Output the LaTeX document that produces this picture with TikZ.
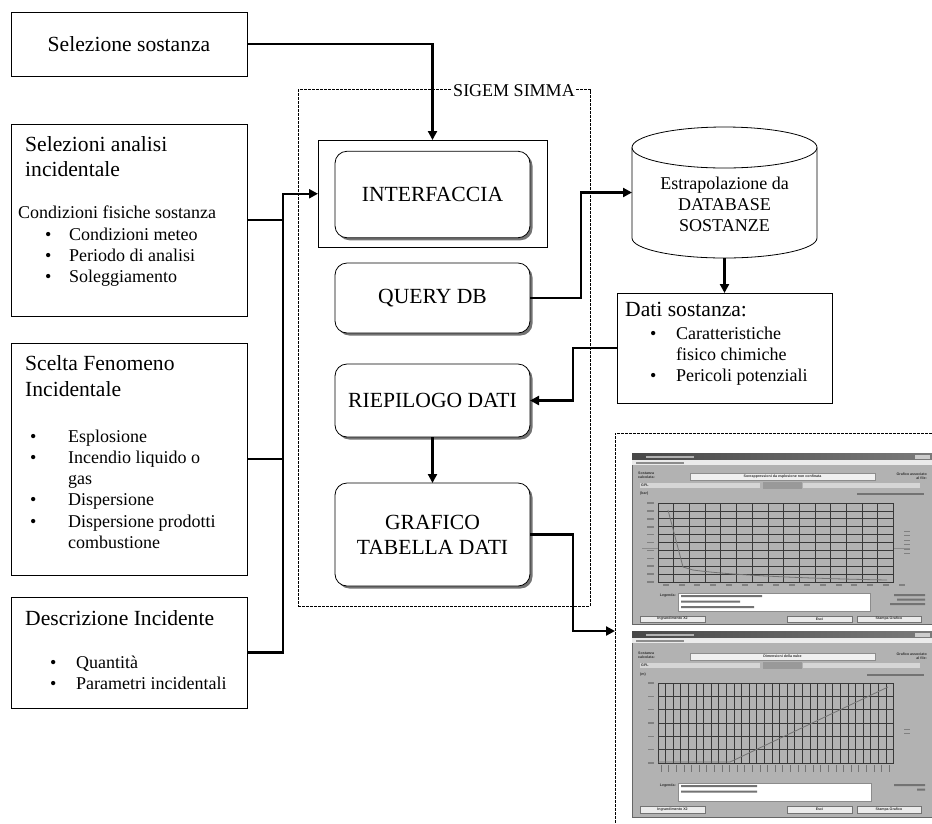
\documentclass[tikz,border=0pt]{standalone}
\usepackage{fontspec}
\setmainfont{Liberation Serif}
\newfontfamily\winfont{Liberation Sans}
\usetikzlibrary{arrows.meta,shadows,calc}
\newcommand\bigtxt{\fontsize{21.6}{25}\selectfont}
\newcommand\bodytxt{\fontsize{18}{21.3}\selectfont}
\newcommand\wintxt{\winfont\bfseries\fontsize{3.6}{4.2}\selectfont}
\begin{document}
\begin{tikzpicture}[x=1pt,y=-1pt,
  box/.style={draw, line width=0.8pt, inner sep=0pt, outer sep=0pt},
  rbox/.style={box, rounded corners=12pt, fill=white, minimum width=195pt, align=center, font=\bigtxt,
     drop shadow={shadow xshift=2.5pt, shadow yshift=-2.5pt, fill=black!55, opacity=1}},
  lt/.style={inner sep=0pt, anchor=base west},
  ct/.style={inner sep=0pt, anchor=base},
  conn/.style={line width=2.2pt},
  arr/.style={conn, -{Triangle[length=9pt,width=9pt]}},
  sigdashed/.style={line width=0.9pt, dash pattern=on 3pt off 1pt},
  wl/.style={inner sep=0pt, font=\wintxt, text=black!80},
  wfield/.style={fill=black!6, draw=black!45, line width=0.3pt},
  wbtn/.style={fill=black!8, draw=black!55, line width=0.3pt},
  grid1/.style={black!78, line width=0.7pt},
  blur/.style={fill=black!55}
]
\useasboundingbox (0,0) rectangle (932,823);

% ---------- left input boxes ----------
\node[box, minimum width=236pt, minimum height=64pt, font=\bigtxt] (ss) at (129,44) {Selezione sostanza};

\node[box, minimum width=236pt, minimum height=192pt] (sel) at (129,220) {};
\node[lt, font=\bigtxt] (selt1) at (25,151.7) {Selezioni analisi};
\node[lt, font=\bigtxt] (selt2) at (25,176.7) {incidentale};
\node[lt, font=\bodytxt] (selt3) at (18,218) {Condizioni fisiche sostanza};
\node[lt, font=\bodytxt] (selb1) at (45,240) {•};
\node[lt, font=\bodytxt] (selt4) at (69,240) {Condizioni meteo};
\node[lt, font=\bodytxt] (selb2) at (45,261.3) {•};
\node[lt, font=\bodytxt] (selt5) at (69,261.3) {Periodo di analisi};
\node[lt, font=\bodytxt] (selb3) at (45,282.6) {•};
\node[lt, font=\bodytxt] (selt6) at (69,282.6) {Soleggiamento};

\node[box, minimum width=236pt, minimum height=232pt] (scelta) at (129,459) {};
\node[lt, font=\bigtxt] (sct1) at (25,370.7) {Scelta Fenomeno};
\node[lt, font=\bigtxt] (sct2) at (25,396) {Incidentale};
\node[lt, font=\bodytxt] (scb1) at (30,442) {•};
\node[lt, font=\bodytxt] (sct3) at (68,442) {Esplosione};
\node[lt, font=\bodytxt] (scb2) at (30,463.3) {•};
\node[lt, font=\bodytxt] (sct4) at (68,463.3) {Incendio liquido o};
\node[lt, font=\bodytxt] (sct5) at (68,484.6) {gas};
\node[lt, font=\bodytxt] (scb3) at (30,505.9) {•};
\node[lt, font=\bodytxt] (sct6) at (68,505.9) {Dispersione};
\node[lt, font=\bodytxt] (scb4) at (30,527.2) {•};
\node[lt, font=\bodytxt] (sct7) at (68,527.2) {Dispersione prodotti};
\node[lt, font=\bodytxt] (sct8) at (68,548.5) {combustione};

\node[box, minimum width=236pt, minimum height=111pt] (desc) at (129,652.5) {};
\node[lt, font=\bigtxt] (dst1) at (25,625) {Descrizione Incidente};
\node[lt, font=\bodytxt] (dsb1) at (50,668.3) {•};
\node[lt, font=\bodytxt] (dst2) at (76,668.3) {Quantità};
\node[lt, font=\bodytxt] (dsb2) at (50,689.3) {•};
\node[lt, font=\bodytxt] (dst3) at (76,689.3) {Parametri incidentali};

% ---------- SIGEM SIMMA ----------
\node[draw, sigdashed, inner sep=0pt, outer sep=0pt, minimum width=292pt, minimum height=516.5pt] (sigem) at (444,347.75) {};
\node[fill=white, inner xsep=1.5pt, inner ysep=0pt, font=\bodytxt] (siglab) at (514,91) {SIGEM SIMMA};

\node[box, minimum width=229pt, minimum height=107.5pt] (intout) at (432.5,193.75) {};
\node[rbox, minimum height=86.5pt] (int) at (432.5,194.5) {INTERFACCIA};
\node[rbox, minimum height=70pt] (query) at (432.5,298) {QUERY DB};
\node[rbox, minimum height=73pt] (riep) at (432.5,400.5) {RIEPILOGO DATI};
\node[rbox, minimum height=103pt] (graf) at (432.5,534.5) {GRAFICO\\TABELLA DATI};

% ---------- database cylinder ----------
\node[inner sep=0pt, outer sep=0pt, minimum width=185pt, minimum height=131pt] (cyl) at (724.5,192.5) {};
\draw[line width=0.8pt, fill=white] (632,147.5) -- (632,238) arc[start angle=180, end angle=360, x radius=92.5pt, y radius=20pt] -- (817,147.5);
\draw[line width=0.8pt] (724.5,147.5) ellipse [x radius=92.5pt, y radius=20.5pt];
\node[ct, font=\bodytxt] (cylt1) at (724.5,189.3) {Estrapolazione da};
\node[ct, font=\bodytxt] (cylt2) at (724.5,210.5) {DATABASE};
\node[ct, font=\bodytxt] (cylt3) at (724.5,231.7) {SOSTANZE};

\node[box, minimum width=215pt, minimum height=110pt] (dati) at (724.5,348) {};
\node[lt, font=\bigtxt] (dat1) at (625,316.7) {Dati sostanza:};
\node[lt, font=\bodytxt] (dab1) at (650,339.3) {•};
\node[lt, font=\bodytxt] (dat2) at (676,339.3) {Caratteristiche};
\node[lt, font=\bodytxt] (dat3) at (676,360.6) {fisico chimiche};
\node[lt, font=\bodytxt] (dab2) at (650,381.9) {•};
\node[lt, font=\bodytxt] (dat4) at (676,381.9) {Pericoli potenziali};

% ---------- screenshots frame ----------
\coordinate (shotin) at (615,631);
\draw[sigdashed] (932,433) -- (615,433) -- (615,823);

% window 1
\begin{scope}[shift={(632,453)}]
  \fill[black!30, draw=black!60, line width=0.4pt] (0,0) rectangle (300,171);
  \shade[left color=black!72, right color=black!52] (0,0) rectangle (300,7);
  \fill[black!30] (14,2.5) rectangle (62,4.5);
  \fill[black!20] (283,1.5) rectangle (298,5.5);
  \fill[black!8] (0,7) rectangle (300,12);
  \fill[black!45] (4,8.5) rectangle (52,10.5);
  \node[wl, anchor=west, align=left] (w1a) at (6,22) {Sostanza\\calcolata:};
  \draw[wfield] (58,20) rectangle (243,27);
  \node[wl] (w1t) at (150.5,23.5) {Sovrappressioni da esplosione non confinata};
  \node[wl, anchor=east, align=right] (w1b) at (295,23) {Grafico associato\\al file:};
  \fill[black!16] (8,30) rectangle (128,35);
  \fill[black!40] (131,29) rectangle (170,36);
  \fill[black!16] (171,30) rectangle (288,35);
  \node[wl, anchor=west] (w1c) at (9,32.5) {GPL};
  \node[wl, anchor=west] (w1d) at (8,41) {(bar)};
  \fill[blur] (225,40) rectangle (292,42);
  \foreach \i in {0,...,15} \draw[grid1] ({26+\i*15.7},50) -- ({26+\i*15.7},129);
  \foreach \j in {0,...,10} {
    \draw[grid1] (26,{50+\j*7.9}) -- (261.5,{50+\j*7.9});
    \fill[black!50] (15,{49.2+\j*7.9}) rectangle (22,{50.8+\j*7.9});}
  \foreach \i in {0,...,15} \fill[black!50] ({31+\i*15.7},131) rectangle ({37+\i*15.7},133);
  \draw[black!45, line width=0.4pt] (10,95) -- (26,95) (262,95) -- (278,95);
  \draw[black!55, line width=0.8pt] (36,57) -- (51,114) -- (61,117) .. controls (90,121) and (150,125) .. (255,127);
  \foreach \j in {0,...,5} \draw[black!50, line width=0.4pt] (272,{78+\j*4.5}) -- (278,{78+\j*4.5});
  \node[wl, anchor=east] (w1e) at (44,143) {Legenda:};
  \draw[wfield, fill=white] (46,140) rectangle (238,158);
  \fill[blur] (49,142) rectangle (130,144) (49,147.5) rectangle (108,149.5) (49,153) rectangle (122,155);
  \fill[blur] (262,141) rectangle (293,143) (265,145.5) rectangle (293,147.5) (258,150) rectangle (293,152);
  \draw[wbtn] (8,163) rectangle (73,169);
  \node[wl] (w1f) at (40.5,166) {Ingrandimento X2};
  \draw[wbtn] (155,163) rectangle (220,169);
  \node[wl] (w1g) at (187.5,166) {Esci};
  \draw[wbtn] (225,163) rectangle (289,169);
  \node[wl] (w1h) at (257,166) {Stampa Grafico};
\end{scope}

% window 2
\begin{scope}[shift={(632,631)}]
  \fill[black!30, draw=black!60, line width=0.4pt] (0,0) rectangle (300,186);
  \shade[left color=black!72, right color=black!52] (0,0) rectangle (300,7);
  \fill[black!30] (14,2.5) rectangle (62,4.5);
  \fill[black!20] (283,1.5) rectangle (298,5.5);
  \fill[black!8] (0,7) rectangle (300,12);
  \fill[black!45] (4,8.5) rectangle (52,10.5);
  \node[wl, anchor=west, align=left] (w2a) at (6,24) {Sostanza\\calcolata:};
  \draw[wfield] (58,22) rectangle (243,29);
  \node[wl] (w2t) at (150.5,25.5) {Dimensioni della nube};
  \node[wl, anchor=east, align=right] (w2b) at (295,25) {Grafico associato\\al file:};
  \fill[black!16] (8,32) rectangle (128,37);
  \fill[black!40] (131,31) rectangle (170,38);
  \fill[black!16] (171,32) rectangle (288,37);
  \node[wl, anchor=west] (w2c) at (9,34.5) {GPL};
  \node[wl, anchor=west] (w2d) at (8,44) {(m)};
  \fill[blur] (235,43) rectangle (292,45);
  \foreach \i in {0,...,31} \draw[grid1] ({26+\i*7.6},52) -- ({26+\i*7.6},132);
  \foreach \j in {0,...,6} {
    \draw[grid1] (26,{52+\j*13.33}) -- (261.5,{52+\j*13.33});
    \fill[black!50] (16,{51.2+\j*13.33}) rectangle (22,{52.8+\j*13.33});}
  \foreach \i in {0,...,30} \draw[black!55, line width=0.6pt] ({29+\i*7.6},134) -- ({29+\i*7.6},141);
  \draw[black!55, line width=0.8pt] (26,131) -- (98,131) -- (256,56);
  \foreach \j in {0,...,1} \draw[black!50, line width=0.4pt] (272,{98+\j*4.5}) -- (278,{98+\j*4.5});
  \node[wl, anchor=east] (w2e) at (44,155) {Legenda:};
  \draw[wfield, fill=white] (46,152) rectangle (239,170);
  \fill[blur] (49,154) rectangle (125,156) (49,159.5) rectangle (125,161.5);
  \fill[blur] (262,153) rectangle (293,155) (285,157.5) rectangle (293,159.5);
  \draw[wbtn] (8,175) rectangle (73,182);
  \node[wl] (w2f) at (40.5,178.5) {Ingrandimento X2};
  \draw[wbtn] (155,175) rectangle (220,182);
  \node[wl] (w2g) at (187.5,178.5) {Esci};
  \draw[wbtn] (225,175) rectangle (289,182);
  \node[wl] (w2h) at (257,178.5) {Stampa Grafico};
\end{scope}

% ---------- connectors ----------
\coordinate (bustop) at (283,193.75);
\draw[arr] (ss.east) -| (intout.north);
\draw[arr] (desc.east) -| (bustop) -- (intout.west);
\draw[conn] (sel.east) -- (sel.east -| bustop);
\draw[conn] (scelta.east) -- (scelta.east -| bustop);
\draw[arr] (query.east) -- ++(51,0) |- (cyl.west);
\draw[arr] (cyl.south) -- (dati.north);
\draw[arr] (dati.west) -- ++(-44,0) |- (riep.east);
\draw[arr] (riep.south) -- (graf.north);
\draw[arr] (graf.east) -- ++(43,0) |- (shotin);
\end{tikzpicture}
\end{document}
